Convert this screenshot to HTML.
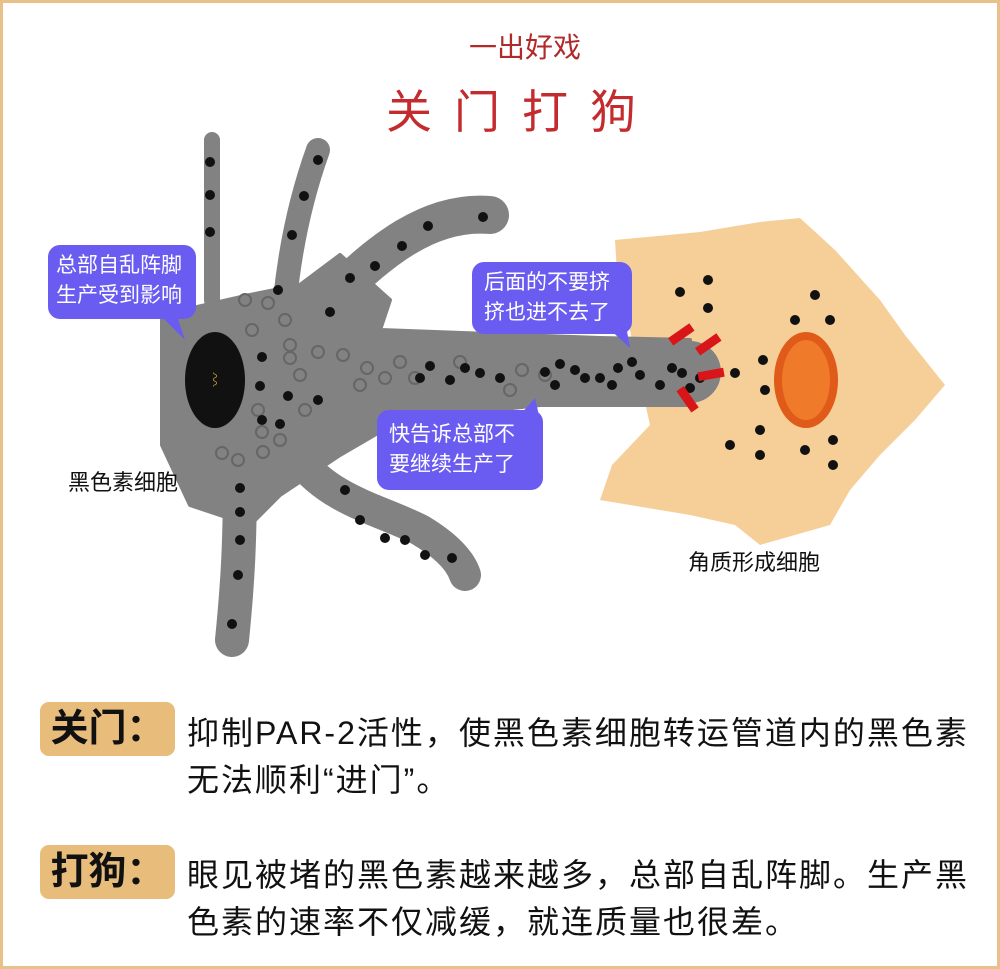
<!DOCTYPE html>
<html><head><meta charset="utf-8"><style>
html,body{margin:0;padding:0}
body{width:1000px;height:969px;position:relative;overflow:hidden;background:#fff;font-family:"Liberation Sans","Noto Sans CJK SC",sans-serif}
.frame{position:absolute;left:0;top:0;width:994px;height:963px;border:3px solid #e8c08a}
svg{position:absolute;left:0;top:0}
.tag{position:absolute;left:40px;width:135px;height:54px;background:#e8bd7c;border-radius:9px;font-weight:bold;font-size:38px;line-height:54px;text-align:center;color:#111}
.p{position:absolute;left:187px;font-size:32px;letter-spacing:2px;line-height:47px;color:#111;white-space:nowrap}
.b{position:absolute;background:#6a5cf0;color:#fff;border-radius:12px;font-size:21px;line-height:30px;padding:6px 8px;box-sizing:border-box;white-space:nowrap}
</style></head><body>
<div class="frame"></div>
<svg width="1000" height="969" viewBox="0 0 1000 969">
<text x="525" y="57" font-size="28" fill="#b02a2a" text-anchor="middle" font-family="Noto Sans CJK SC">一出好戏</text>
<text x="522" y="128" font-size="46" fill="#c42b2e" text-anchor="middle" letter-spacing="22" font-family="Noto Sans CJK SC">关门打狗</text>
<path d="M615,240 L700,232 L760,222 L800,218 L835,250 L880,300 L905,335 L945,385 L915,420 L880,455 L850,490 L830,525 L760,545 L735,525 L690,515 L600,500 L612,465 L650,425 L640,380 L630,330 L618,290 Z" fill="#f6cf98"/>
<ellipse cx="806" cy="380" rx="32" ry="48" fill="#e05a1a"/>
<ellipse cx="806" cy="380" rx="24" ry="40" fill="#ee7a2a"/>
<g fill="#828282" stroke="#828282" stroke-linecap="round" stroke-linejoin="round">
<path d="M162,315 L250,295 L300,285 L340,255 L390,300 L380,330 L600,338 L690,340 L690,405 L540,405 L400,420 L340,455 L280,495 L250,525 L190,505 L162,445 Z" stroke-width="4"/>
<path d="M212,140 L212,300" stroke-width="16" fill="none"/>
<path d="M318,150 C300,200 290,250 285,300" stroke-width="24" fill="none"/>
<path d="M330,300 C380,250 430,210 490,215" stroke-width="38" fill="none"/>
<path d="M240,470 C240,540 238,580 232,640" stroke-width="34" fill="none"/>
<path d="M300,460 C330,500 380,510 420,530 C445,545 460,560 465,575" stroke-width="32" fill="none"/>
<path d="M290,360 L690,372" stroke-width="62" fill="none"/>
</g>
<ellipse cx="215" cy="380" rx="30" ry="48" fill="#111"/>
<text x="215" y="385" font-size="14" fill="#c8a040" text-anchor="middle">⌇</text>
<g fill="none" stroke="#666" stroke-width="2">
<circle cx="245" cy="300" r="6"/><circle cx="268" cy="303" r="6"/><circle cx="252" cy="330" r="6"/><circle cx="285" cy="320" r="6"/><circle cx="290" cy="345" r="6"/><circle cx="300" cy="375" r="6"/><circle cx="318" cy="352" r="6"/><circle cx="343" cy="355" r="6"/><circle cx="367" cy="368" r="6"/><circle cx="385" cy="378" r="6"/><circle cx="400" cy="362" r="6"/><circle cx="415" cy="378" r="6"/><circle cx="460" cy="362" r="6"/><circle cx="522" cy="370" r="6"/><circle cx="545" cy="375" r="6"/><circle cx="510" cy="390" r="6"/><circle cx="305" cy="410" r="6"/><circle cx="258" cy="410" r="6"/><circle cx="262" cy="432" r="6"/><circle cx="280" cy="440" r="6"/><circle cx="222" cy="453" r="6"/><circle cx="238" cy="460" r="6"/><circle cx="263" cy="452" r="6"/><circle cx="290" cy="358" r="6"/><circle cx="360" cy="385" r="6"/>
</g>
<g fill="#111">
<circle cx="210" cy="162" r="5"/><circle cx="210" cy="195" r="5"/><circle cx="210" cy="232" r="5"/>
<circle cx="318" cy="160" r="5"/><circle cx="304" cy="196" r="5"/><circle cx="292" cy="235" r="5"/>
<circle cx="483" cy="217" r="5"/><circle cx="428" cy="226" r="5"/><circle cx="402" cy="246" r="5"/><circle cx="375" cy="266" r="5"/><circle cx="350" cy="278" r="5"/><circle cx="278" cy="290" r="5"/><circle cx="330" cy="312" r="5"/>
<circle cx="262" cy="357" r="5"/><circle cx="260" cy="386" r="5"/><circle cx="288" cy="396" r="5"/><circle cx="318" cy="400" r="5"/><circle cx="262" cy="420" r="5"/><circle cx="280" cy="424" r="5"/>
<circle cx="430" cy="366" r="5"/><circle cx="420" cy="378" r="5"/><circle cx="450" cy="380" r="5"/><circle cx="465" cy="368" r="5"/><circle cx="480" cy="373" r="5"/><circle cx="500" cy="378" r="5"/><circle cx="545" cy="372" r="5"/><circle cx="555" cy="385" r="5"/><circle cx="560" cy="364" r="5"/><circle cx="575" cy="370" r="5"/><circle cx="585" cy="378" r="5"/><circle cx="600" cy="378" r="5"/><circle cx="612" cy="385" r="5"/><circle cx="618" cy="368" r="5"/><circle cx="632" cy="362" r="5"/><circle cx="640" cy="375" r="5"/><circle cx="660" cy="385" r="5"/><circle cx="672" cy="368" r="5"/><circle cx="682" cy="373" r="5"/><circle cx="690" cy="388" r="5"/><circle cx="700" cy="378" r="5"/><circle cx="735" cy="373" r="5"/>
<circle cx="240" cy="488" r="5"/><circle cx="240" cy="512" r="5"/><circle cx="240" cy="540" r="5"/><circle cx="238" cy="575" r="5"/><circle cx="232" cy="624" r="5"/>
<circle cx="345" cy="490" r="5"/><circle cx="360" cy="520" r="5"/><circle cx="385" cy="538" r="5"/><circle cx="405" cy="540" r="5"/><circle cx="425" cy="555" r="5"/><circle cx="452" cy="558" r="5"/>
<circle cx="708" cy="280" r="5"/><circle cx="680" cy="292" r="5"/><circle cx="708" cy="308" r="5"/><circle cx="815" cy="295" r="5"/><circle cx="795" cy="320" r="5"/><circle cx="830" cy="320" r="5"/><circle cx="763" cy="360" r="5"/><circle cx="765" cy="390" r="5"/><circle cx="760" cy="430" r="5"/><circle cx="730" cy="445" r="5"/><circle cx="760" cy="455" r="5"/><circle cx="805" cy="450" r="5"/><circle cx="833" cy="440" r="5"/><circle cx="833" cy="465" r="5"/>
</g>
<g fill="#d8161a">
<rect x="668" y="330" width="26" height="9" transform="rotate(-35 681 334)"/>
<rect x="695" y="340" width="26" height="9" transform="rotate(-35 708 344)"/>
<rect x="698" y="370" width="26" height="9" transform="rotate(-10 711 374)"/>
<rect x="675" y="395" width="26" height="9" transform="rotate(55 688 399)"/>
</g>
<path d="M155,310 L185,340 L175,310 Z" fill="#6a5cf0"/>
<path d="M605,325 L630,348 L625,320 Z" fill="#6a5cf0"/>
<path d="M520,415 L535,398 L540,420 Z" fill="#6a5cf0"/>
<text x="68" y="490" font-size="22" fill="#111" font-family="Noto Sans CJK SC">黑色素细胞</text>
<text x="688" y="570" font-size="22" fill="#111" font-family="Noto Sans CJK SC">角质形成细胞</text>
</svg>
<div class="b" style="left:48px;top:245px;width:148px;height:74px">总部自乱阵脚<br>生产受到影响</div>
<div class="b" style="left:472px;top:262px;width:160px;height:72px;padding-left:12px">后面的不要挤<br>挤也进不去了</div>
<div class="b" style="left:377px;top:410px;width:166px;height:80px;padding-top:10px;padding-left:12px">快告诉总部不<br>要继续生产了</div>
<div class="tag" style="top:702px">关门：</div>
<div class="p" style="top:710px">抑制PAR-2活性，使黑色素细胞转运管道内的黑色素<br>无法顺利“进门”。</div>
<div class="tag" style="top:845px">打狗：</div>
<div class="p" style="top:852px">眼见被堵的黑色素越来越多，总部自乱阵脚。生产黑<br>色素的速率不仅减缓，就连质量也很差。</div>
</body></html>
